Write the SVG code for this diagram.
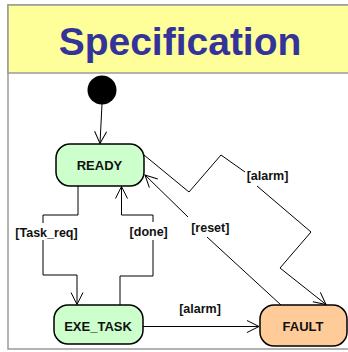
<svg xmlns="http://www.w3.org/2000/svg" width="348" height="352" viewBox="0 0 348 352">
  <defs>
    <style>
      .frame { fill: #ffffff; stroke: #9a9a9a; stroke-width: 1.5; }
      .header { fill: #ffff99; stroke: #9a9a9a; stroke-width: 1.5; }
      .title { font-family: "Liberation Sans", Arial, sans-serif; font-weight: bold; font-size: 39px; fill: #333399; text-anchor: middle; }
      .state { stroke: #000; stroke-width: 1.5; }
      .normal { fill: #ccffcc; }
      .fault { fill: #ffcc99; }
      .name { font-family: "Liberation Sans", Arial, sans-serif; font-weight: bold; font-size: 13px; fill: #111; text-anchor: middle; }
      .edge { fill: none; stroke: #000; stroke-width: 1; marker-end: url(#open); }
      .guard { font-family: "Liberation Sans", Arial, sans-serif; font-weight: bold; font-size: 12.5px; fill: #111; text-anchor: middle; }
    </style>
    <marker id="open" viewBox="-13 -7 14 14" refX="0" refY="0" markerWidth="14" markerHeight="14" markerUnits="userSpaceOnUse" orient="auto">
      <path d="M-12,-6 L0,0 L-12,6" fill="none" stroke="#000" stroke-width="1"/>
    </marker>
  </defs>

  <!-- frame and title bar -->
  <rect class="frame" x="8" y="5" width="344" height="344"/>
  <rect class="header" x="8" y="5" width="344" height="68"/>
  <text class="title" x="180" y="55">Specification</text>

  <!-- transitions -->
  <g id="connectors">
    <path class="edge" d="M102,104 L100,143.5"/>
    <path class="edge" d="M78,186 V215 H43 V223 M43,240 V275 H77 V304.5"/>
    <path class="edge" d="M120,305 V276 H153 V240 M153,222 V215 H121.5 V186.5"/>
    <path class="edge" d="M144,155 L189,192 L221,155 L245,172 M257,186 L311,232 L280,268 L326,304.5"/>
    <path class="edge" d="M281,305 L207,237 M188,217 L145,175"/>
    <path class="edge" d="M143,326.5 H259"/>
    <text class="guard" x="46.5" y="236.5">[Task_req]</text>
    <text class="guard" x="148.7" y="236">[done]</text>
    <text class="guard" x="267.5" y="180">[alarm]</text>
    <text class="guard" x="210.3" y="231.7">[reset]</text>
    <text class="guard" x="200" y="312.7">[alarm]</text>
  </g>

  <!-- states -->
  <g id="initial">
    <circle cx="102" cy="90" r="14.5" fill="#000"/>
  </g>
  <g id="ready">
    <rect class="state normal" x="56" y="144" width="88" height="42" rx="14"/>
    <text class="name" x="99.5" y="169.5">READY</text>
  </g>
  <g id="exe_task">
    <rect class="state normal" x="54" y="305" width="89" height="39" rx="14"/>
    <text class="name" x="98" y="330.5">EXE_TASK</text>
  </g>
  <g id="fault">
    <rect class="state fault" x="260" y="305" width="87" height="41" rx="14"/>
    <text class="name" x="303" y="330.5">FAULT</text>
  </g>
</svg>
